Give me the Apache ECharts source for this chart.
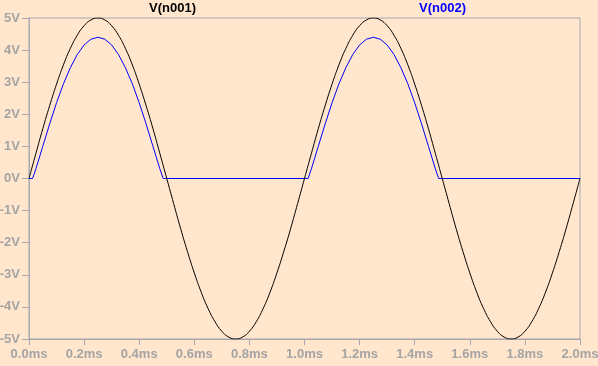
<!DOCTYPE html>
<html>
<head>
<meta charset="utf-8">
<script src="https://cdn.jsdelivr.net/npm/echarts@6/dist/echarts.min.js"></script>
<style>
html,body{margin:0;padding:0;background:#FFE6CC;}
#c{width:598px;height:366px;}
</style>
</head>
<body>
<div id="c"></div>
<script>
// Time samples (ms) for V(n001)
const timeN001 = [0,0.025,0.05,0.075,0.1,0.125,0.15,0.175,0.2,0.225,0.25,0.275,0.3,0.325,0.35,0.375,0.4,0.425,0.45,0.475,
0.5,0.525,0.55,0.575,0.6,0.625,0.65,0.675,0.7,0.725,0.75,0.775,0.8,0.825,0.85,0.875,0.9,0.925,0.95,0.975,
1.0,1.025,1.05,1.075,1.1,1.125,1.15,1.175,1.2,1.225,1.25,1.275,1.3,1.325,1.35,1.375,1.4,1.425,1.45,1.475,
1.5,1.525,1.55,1.575,1.6,1.625,1.65,1.675,1.7,1.725,1.75,1.775,1.8,1.825,1.85,1.875,1.9,1.925,1.95,1.975,2.0];
// V(n001) values (V)
const vN001 = [0,0.78,1.55,2.27,2.94,3.54,4.05,4.46,4.76,4.94,5.00,4.94,4.76,4.46,4.05,3.54,2.94,2.27,1.55,0.78,
0,-0.78,-1.55,-2.27,-2.94,-3.54,-4.05,-4.46,-4.76,-4.94,-5.00,-4.94,-4.76,-4.46,-4.05,-3.54,-2.94,-2.27,-1.55,-0.78,
0,0.78,1.55,2.27,2.94,3.54,4.05,4.46,4.76,4.94,5.00,4.94,4.76,4.46,4.05,3.54,2.94,2.27,1.55,0.78,
0,-0.78,-1.55,-2.27,-2.94,-3.54,-4.05,-4.46,-4.76,-4.94,-5.00,-4.94,-4.76,-4.46,-4.05,-3.54,-2.94,-2.27,-1.55,-0.78,0];
// Time samples (ms) for V(n002)
const timeN002 = [0,0.013,0.025,0.05,0.075,0.1,0.125,0.15,0.175,0.2,0.225,0.25,0.275,0.3,0.325,0.35,0.375,0.4,0.425,0.45,0.475,0.487,0.5,
1.0,1.013,1.025,1.05,1.075,1.1,1.125,1.15,1.175,1.2,1.225,1.25,1.275,1.3,1.325,1.35,1.375,1.4,1.425,1.45,1.475,1.487,1.5,2.0];
// V(n002) values (V)
const vN002 = [0,0,0.30,1.00,1.70,2.36,2.95,3.45,3.86,4.16,4.34,4.40,4.34,4.16,3.86,3.45,2.95,2.36,1.70,1.00,0.30,0,0,
0,0,0.30,1.00,1.70,2.36,2.95,3.45,3.86,4.16,4.34,4.40,4.34,4.16,3.86,3.45,2.95,2.36,1.70,1.00,0.30,0,0,0];
const seriesNames = ['V(n001)','V(n002)'];
const xTicks = [0,0.2,0.4,0.6,0.8,1.0,1.2,1.4,1.6,1.8,2.0];
const yTicks = [-5,-4,-3,-2,-1,0,1,2,3,4,5];

const chart = echarts.init(document.getElementById('c'), null, {renderer:'canvas'});
const gray = '#A8A8AE';
const labelStyle = {color:'#A4A4A4', fontFamily:'Liberation Sans, Arial, sans-serif', fontWeight:'bold', fontSize:13};
chart.setOption({
  animation:false,
  backgroundColor:'#FFE6CC',
  grid:{left:29, right:18, top:18, bottom:27, show:true, borderColor:gray, borderWidth:1, backgroundColor:'transparent',
    containLabel:false, outerBoundsMode:'none'},
  graphic:[
    {type:'text', left:149, top:2, style:{text:seriesNames[0], fill:'#000000', font:'bold 13px "Liberation Sans", Arial, sans-serif'}},
    {type:'text', left:419, top:2, style:{text:seriesNames[1], fill:'#0000FF', font:'bold 13px "Liberation Sans", Arial, sans-serif'}}
  ],
  xAxis:{type:'value', min:xTicks[0], max:xTicks[xTicks.length-1], interval:0.2,
    axisLine:{show:true, onZero:false, lineStyle:{color:gray, width:1}},
    axisTick:{show:true, length:6, lineStyle:{color:gray}},
    splitLine:{show:false},
    axisLabel:Object.assign({margin:9, formatter:v=>v.toFixed(1)+'ms', showMaxLabel:true, showMinLabel:true, hideOverlap:false}, labelStyle)},
  yAxis:{type:'value', min:yTicks[0], max:yTicks[yTicks.length-1], interval:1,
    axisLine:{show:true, onZero:false, lineStyle:{color:gray, width:1}},
    axisTick:{show:true, length:7, lineStyle:{color:gray}},
    splitLine:{show:false},
    axisLabel:Object.assign({margin:9, formatter:v=>v+'V', hideOverlap:false}, labelStyle)},
  series:[
    {name:seriesNames[1], type:'line', data:timeN002.map((t,i)=>[t,vN002[i]]), showSymbol:false, smooth:false,
      lineStyle:{color:'#0000FF', width:1}, z:2},
    {name:seriesNames[0], type:'line', data:timeN001.map((t,i)=>[t,vN001[i]]), showSymbol:false, smooth:true,
      lineStyle:{color:'#000000', width:1}, z:3}
  ]
});
</script>
</body>
</html>
